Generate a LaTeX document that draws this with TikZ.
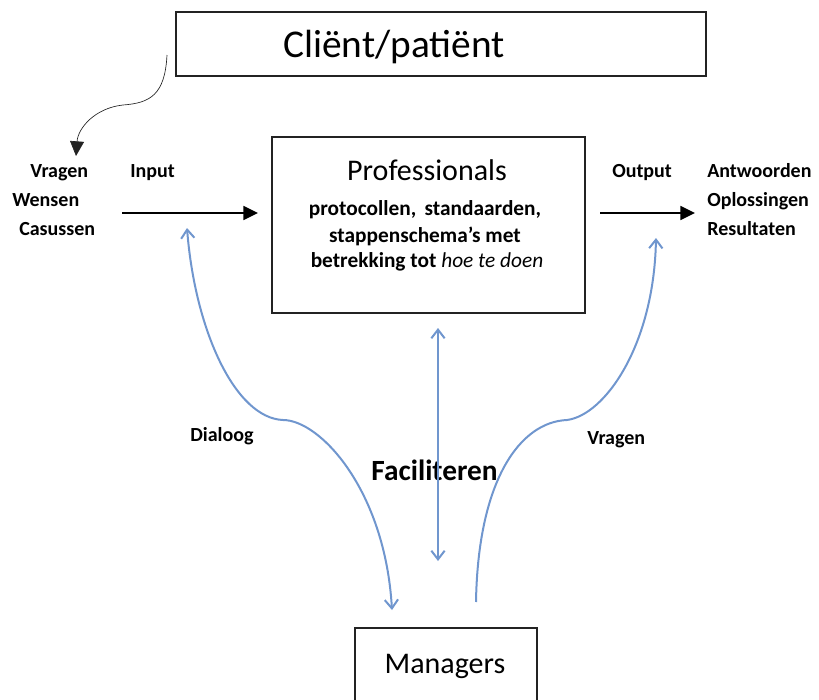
\documentclass[tikz,border=0pt]{standalone}
\usepackage{fontspec}
\setmainfont{Carlito}
\usetikzlibrary{arrows.meta}
\definecolor{arrowblue}{RGB}{112,150,206}
\definecolor{boxline}{RGB}{35,35,35}
\tikzset{
  box/.style={draw=boxline, line width=1.6pt, fill=white, inner sep=0pt},
  lbl/.style={inner sep=0pt, font=\fontsize{15}{17}\selectfont\bfseries},
  blackarrow/.style={line width=1.3pt, -{Triangle[length=11pt,width=10.5pt]}},
  bluearrow/.style={draw=arrowblue, line width=1.5pt}
}
\begin{document}
\begin{tikzpicture}[x=0.75pt,y=-0.75pt]
\useasboundingbox (0,0) rectangle (819,700);
% boxes
\node[box, minimum width=530*0.75pt, minimum height=64*0.75pt, anchor=north west] (client) at (175,11) {};
\node[box, minimum width=313*0.75pt, minimum height=176*0.75pt, anchor=north west] (prof) at (271,135.5) {};
\node[box, minimum width=182*0.75pt, minimum height=120*0.75pt, anchor=north west] (man) at (354,627) {};
% box texts
\node[inner sep=0pt, anchor=base, font=\fontsize{29.5}{32}\selectfont] (clienttxt) at (394,57) {Cliënt/patiënt};
\node[inner sep=0pt, anchor=base, font=\fontsize{22.5}{26}\selectfont] (proftitle) at (427,180) {Professionals};
\node[inner sep=0pt, anchor=base, font=\fontsize{16}{18}\selectfont\bfseries] (profl1) at (425,215) {protocollen,\, standaarden,};
\node[inner sep=0pt, anchor=base, font=\fontsize{16}{18}\selectfont\bfseries] (profl2) at (425,242) {stappenschema’s met};
\node[inner sep=0pt, anchor=base, font=\fontsize{16}{18}\selectfont\bfseries] (profl3) at (427,267) {betrekking tot \textmd{\itshape hoe te doen}};
\node[inner sep=0pt, anchor=base, font=\fontsize{22.5}{26}\selectfont] (mantxt) at (445,673) {Managers};
% side labels
\node[lbl, anchor=base west] (vragenL) at (30,177) {Vragen};
\node[lbl, anchor=base west] (wensen) at (12,206) {Wensen};
\node[lbl, anchor=base west] (casussen) at (19,235) {Casussen};
\node[lbl, anchor=base west] (input) at (130,177) {Input};
\node[lbl, anchor=base west] (output) at (612,177) {Output};
\node[lbl, anchor=base west] (antw) at (707,177) {Antwoorden};
\node[lbl, anchor=base west] (oplos) at (707,206) {Oplossingen};
\node[lbl, anchor=base west] (result) at (707,235) {Resultaten};
\node[lbl, anchor=base west] (dialoog) at (190,441) {Dialoog};
\node[lbl, anchor=base west] (vragenR) at (587,444) {Vragen};
\node[inner sep=0pt, anchor=base, font=\fontsize{22}{26}\selectfont\bfseries] (facil) at (434.5,480) {Faciliteren};
% coordinates
\coordinate (inS) at (122,213);
\coordinate (inE) at (258,213);
\coordinate (outS) at (600,213);
\coordinate (outE) at (695,213);
\coordinate (cS) at (167,55);
\coordinate (cM) at (123,105);
\coordinate (cE) at (76,156);
\coordinate (dT) at (187,228);
\coordinate (dM) at (283,420);
\coordinate (dB) at (392,610);
\coordinate (mT) at (438,328);
\coordinate (mB) at (438,561);
\coordinate (vB) at (476,602);
\coordinate (vM) at (567,420);
\coordinate (vT) at (656,238);
% black arrows
\draw[blackarrow] (inS) -- (inE);
\draw[blackarrow] (outS) -- (outE);
\draw[draw=boxline, line width=0.5pt, -{Triangle[length=11pt,width=10.5pt]}]
  (cS) .. controls (165,95) and (150,103) .. (cM) .. controls (95,108) and (78,128) .. (cE);
% blue arrows
\draw[bluearrow, {Straight Barb[length=6.5pt,width=10pt]}-{Straight Barb[length=6.5pt,width=10pt]}]
  (dT) .. controls (195,330) and (235,418) .. (dM) .. controls (320,420) and (385,490) .. (dB);
\draw[bluearrow, {Straight Barb[length=6.5pt,width=10pt]}-{Straight Barb[length=6.5pt,width=10pt]}]
  (mT) -- (mB);
\draw[bluearrow, -{Straight Barb[length=6.5pt,width=10pt]}]
  (vB) .. controls (478,480) and (520,422) .. (vM) .. controls (605,415) and (654,345) .. (vT);
\end{tikzpicture}
\end{document}
